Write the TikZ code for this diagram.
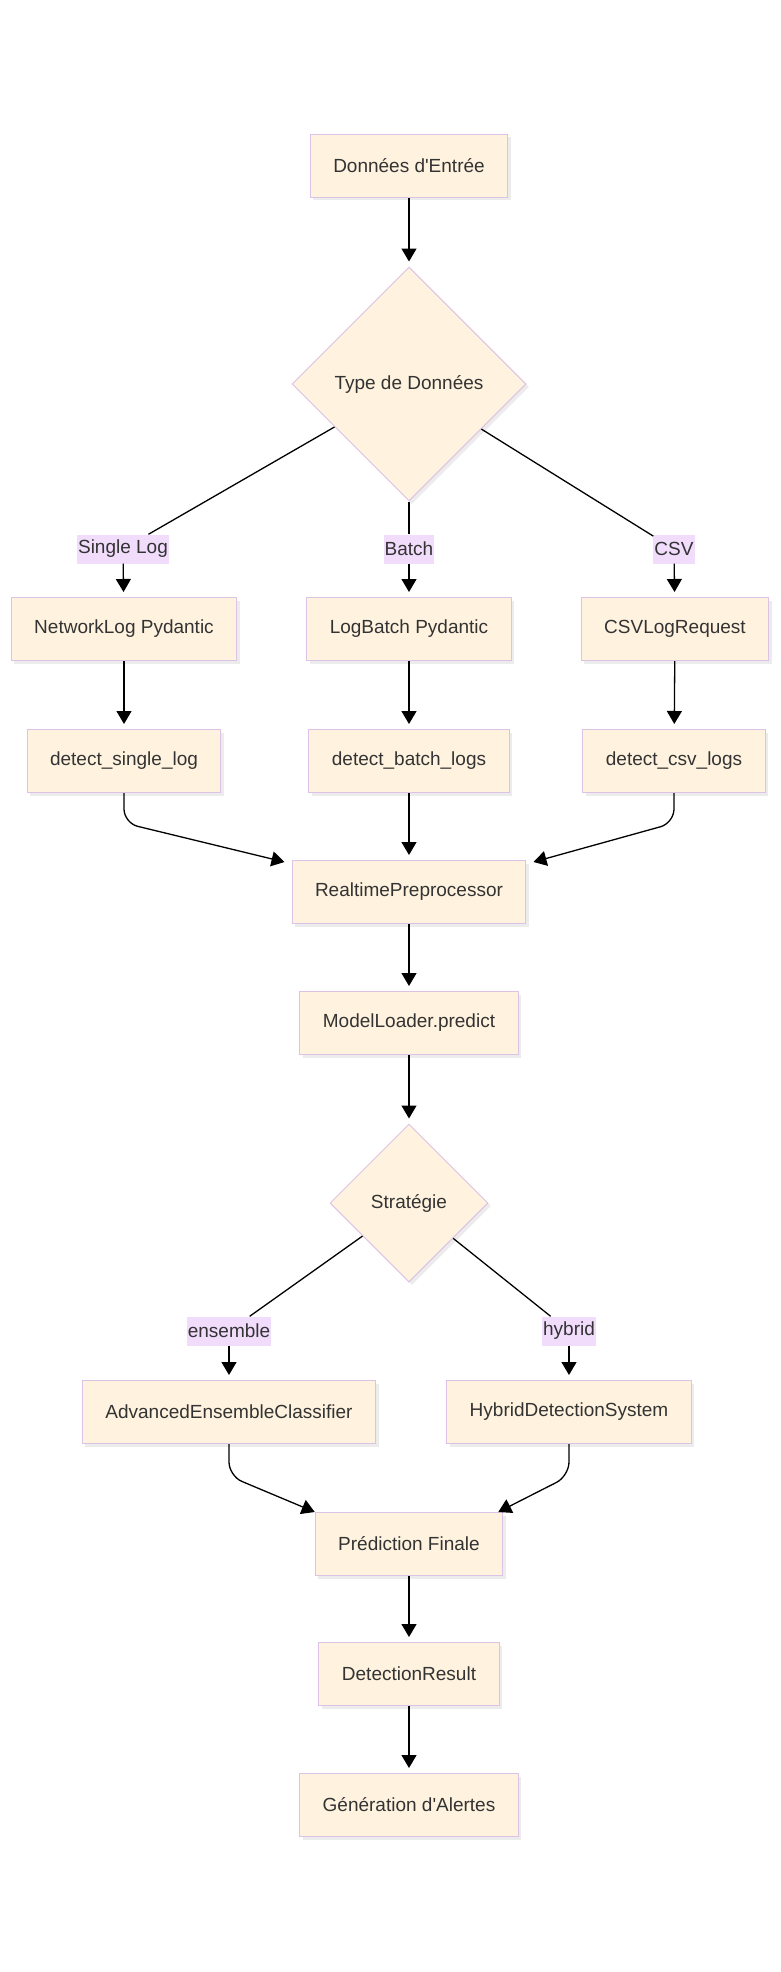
\documentclass[tikz,border=0pt]{standalone}
\usepackage{fontspec}
\setmainfont{Liberation Sans}
\usetikzlibrary{shapes.geometric, arrows.meta, shadows}
\definecolor{boxfill}{HTML}{FFF3DF}
\definecolor{boxline}{HTML}{DCC3E6}
\definecolor{lblfill}{HTML}{F2DCFC}
\definecolor{txt}{HTML}{333333}
\tikzset{process/.style = {rectangle, draw=boxline, line width=1pt, fill=boxfill, text=txt,
  minimum height=63pt, inner xsep=23pt, font=\fontsize{19}{23}\selectfont,
  drop shadow={shadow xshift=3pt, shadow yshift=-3pt, opacity=0.15}}}
\tikzset{decision/.style = {diamond, aspect=1, draw=boxline, line width=1pt, fill=boxfill, text=txt,
  inner sep=0pt, font=\fontsize{19}{23}\selectfont,
  drop shadow={shadow xshift=3pt, shadow yshift=-3pt, opacity=0.15}}}
\tikzset{edgelbl/.style = {fill=lblfill, text=txt, inner xsep=1pt, inner ysep=0pt,
  minimum height=29pt, font=\fontsize{19}{23}\selectfont}}
\tikzset{arrow/.style = {line width=1.3pt, -{Triangle[width=15pt,length=13pt]}, shorten >=5pt}}
\tikzset{link/.style = {line width=1.3pt}}

\begin{document}
\begin{tikzpicture}[x=1pt, y=-1pt]
\useasboundingbox (0,0) rectangle (780,1972);

\node[process] (input) at (409,166) {Données d\textquotesingle Entrée};
\node[decision, minimum width=234pt, minimum height=234pt] (type) at (409,384) {Type de Données};

\node[edgelbl] (lsingle) at (123,549) {Single Log};
\node[edgelbl] (lbatch) at (409,549) {Batch};
\node[edgelbl] (lcsv) at (674,549) {CSV};

\node[process] (netlog) at (124,629) {NetworkLog Pydantic};
\node[process] (logbatch) at (409,629) {LogBatch Pydantic};
\node[process] (csvreq) at (675,629) {CSVLogRequest};

\node[process] (dsingle) at (124,761) {detect\_single\_log};
\node[process] (dbatch) at (409,761) {detect\_batch\_logs};
\node[process] (dcsv) at (674,761) {detect\_csv\_logs};

\node[process] (pre) at (409,892) {RealtimePreprocessor};
\node[process] (loader) at (409,1023) {ModelLoader.predict};
\node[decision, minimum width=158pt, minimum height=158pt] (strat) at (409,1203) {Stratégie};

\node[edgelbl] (lens) at (229,1331) {ensemble};
\node[edgelbl] (lhyb) at (569,1331) {hybrid};

\node[process] (ens) at (229,1412) {AdvancedEnsembleClassifier};
\node[process] (hyb) at (569,1412) {HybridDetectionSystem};

\node[process] (final) at (409,1544) {Prédiction Finale};
\node[process] (result) at (409,1674) {DetectionResult};
\node[process] (alert) at (409,1805) {Génération d\textquotesingle Alertes};

\draw[arrow] (input) -- (type);
\draw[link] (type) -- (lsingle);
\draw[link] (type) -- (lbatch);
\draw[link] (type) -- (lcsv);
\draw[arrow] (lsingle) -- (netlog);
\draw[arrow] (lbatch) -- (logbatch);
\draw[arrow] (lcsv) -- (csvreq);
\draw[arrow] (netlog) -- (dsingle);
\draw[arrow] (logbatch) -- (dbatch);
\draw[arrow] (csvreq) -- (dcsv);

\draw[arrow, shorten >=0pt, rounded corners=14pt] (dsingle.south) -- ++(0,30) -- ([xshift=-7pt,yshift=-2pt]pre.north west);
\draw[arrow] (dbatch) -- (pre);
\draw[arrow, shorten >=0pt, rounded corners=14pt] (dcsv.south) -- ++(0,30) -- ([xshift=7pt,yshift=-2pt]pre.north east);

\draw[arrow] (pre) -- (loader);
\draw[arrow] (loader) -- (strat);
\draw[link] (strat) -- (lens);
\draw[link] (strat) -- (lhyb);
\draw[arrow] (lens) -- (ens);
\draw[arrow] (lhyb) -- (hyb);

\draw[arrow, shorten >=0pt, rounded corners=14pt] (ens.south) -- ++(0,32) -- (final.north west);
\draw[arrow, shorten >=0pt, rounded corners=14pt] (hyb.south) -- ++(0,32) -- ([xshift=-5pt]final.north east);

\draw[arrow] (final) -- (result);
\draw[arrow] (result) -- (alert);

\end{tikzpicture}
\end{document}
